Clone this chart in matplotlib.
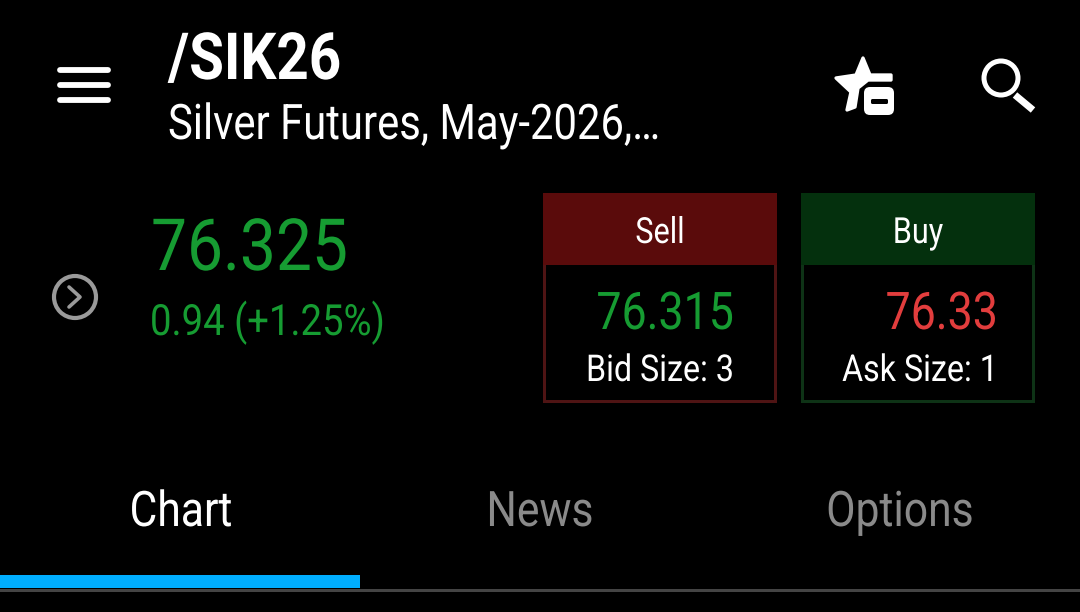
import matplotlib
matplotlib.use('Agg')
import matplotlib.pyplot as plt
from matplotlib.patches import Rectangle, FancyBboxPatch, Circle, Polygon
from matplotlib.patheffects import AbstractPathEffect
from matplotlib.transforms import Affine2D

symbol = '/SIK26'
description = 'Silver Futures, May-2026,…'
last_price = '76.325'
change_text = '0.94 (+1.25%)'
bid_price = '76.315'
ask_price = '76.33'
bid_size = 'Bid Size: 3'
ask_size = 'Ask Size: 1'
tabs = ['Chart', 'News', 'Options']
tab_colors = ['#ffffff', '#8a8a8a', '#8a8a8a']

GREEN = '#169c32'
RED = '#e23d3d'

plt.rcParams['font.family'] = ['Roboto', 'DejaVu Sans']

fig = plt.figure(figsize=(10.8, 6.12), dpi=100, facecolor='black')
ax = fig.add_axes([0, 0, 1, 1])
ax.set_xlim(0, 1080)
ax.set_ylim(612, 0)
ax.axis('off')


# no Roboto Condensed here, so squeeze the glyphs sideways around the anchor
class Condense(AbstractPathEffect):
    def __init__(self, x, factor):
        super().__init__()
        self.x = x
        self.factor = factor

    def draw_path(self, renderer, gc, tpath, affine, rgbFace=None):
        squeeze = Affine2D().translate(-self.x, 0).scale(self.factor, 1).translate(self.x, 0)
        renderer.draw_path(gc, tpath, affine + squeeze, rgbFace)


def label(x, y, s, px, color='white', ha='left', weight='normal', factor=0.87):
    # px = em size in image pixels
    return ax.text(x, y, s, fontsize=px * 0.72, color=color, ha=ha, va='baseline',
                   fontweight=weight, path_effects=[Condense(x, factor)])


# menu
for y in [70, 85, 100]:
    ax.plot([60, 108], [y, y], color='white', lw=4.2, solid_capstyle='round')

label(168, 79, symbol, 65, weight='bold')
label(168, 139, description, 49, factor=0.853)

# star with minus
star = [(863, 58), (870, 75), (891, 75), (891, 80), (868, 80), (858, 88), (855, 107),
        (847, 110), (851, 92), (836, 78), (856, 75)]
ax.add_patch(Polygon(star, closed=True, fc='white', ec='white', lw=2.4, joinstyle='round'))
ax.add_patch(FancyBboxPatch((864, 87), 30, 28, boxstyle='round,pad=0,rounding_size=6', fc='white', ec='none'))
ax.add_patch(FancyBboxPatch((871, 99), 17, 5, boxstyle='round,pad=0,rounding_size=1.5', fc='black', ec='none'))

# search
ax.add_patch(Circle((1001, 78), 17, fc='none', ec='white', lw=3.6))
ax.plot([1015, 1033], [95, 110], color='white', lw=5, solid_capstyle='butt')

# price block
ax.add_patch(Circle((75, 297), 21, fc='none', ec='#9a9a9a', lw=3))
ax.plot([69, 80, 69], [287, 297, 307], color='#9a9a9a', lw=2.6, solid_capstyle='round')
label(151, 270, last_price, 72, color=GREEN, factor=0.89)
label(150, 335, change_text, 43, color=GREEN, factor=0.89)

# sell box
ax.add_patch(Rectangle((544.5, 194.5), 231, 207, fc='black', ec='#4f1414', lw=2.16, snap=False))
ax.add_patch(Rectangle((543, 193), 234, 72, fc='#5a0b0b', ec='none', snap=False))
label(660, 243, 'Sell', 36, ha='center', factor=0.85)
label(734, 329, bid_price, 52, color=GREEN, ha='right', factor=0.86)
label(660, 381, bid_size, 37, ha='center')

# buy box
ax.add_patch(Rectangle((802.5, 194.5), 231, 207, fc='black', ec='#0e3316', lw=2.16, snap=False))
ax.add_patch(Rectangle((801, 193), 234, 72, fc='#04300d', ec='none', snap=False))
label(918, 243, 'Buy', 36, ha='center', factor=0.85)
label(998, 329, ask_price, 52, color=RED, ha='right', factor=0.86)
label(920, 381, ask_size, 37, ha='center')

# tabs
for x, name, color in zip([181, 540, 900], tabs, tab_colors):
    label(x, 526, name, 49, color=color, ha='center')
ax.add_patch(Rectangle((0, 589), 1080, 3, fc='#444444', ec='none'))
ax.add_patch(Rectangle((0, 575), 360, 13, fc='#00aeff', ec='none'))

fig.savefig('out.png', dpi=100, facecolor='black')
